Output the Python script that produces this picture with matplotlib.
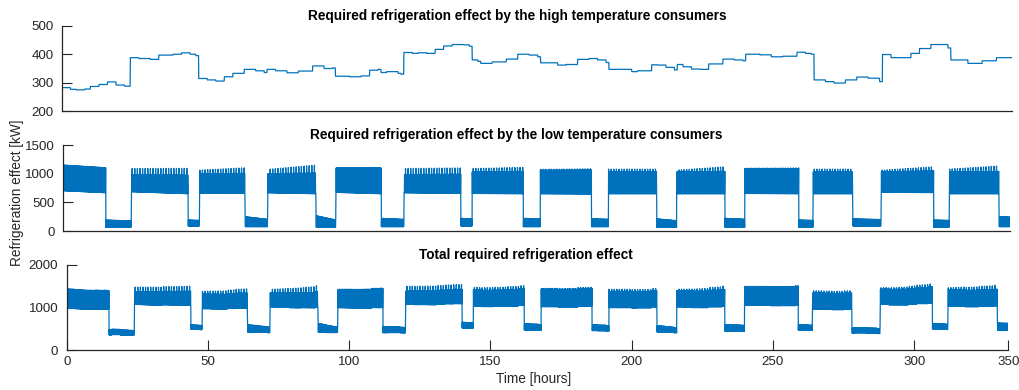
import numpy as np
import matplotlib
matplotlib.use("Agg")
import matplotlib.pyplot as plt

plt.rcParams['font.family'] = ['Liberation Sans', 'DejaVu Sans']

# ---------------------------------------------------------------------------
# High temperature consumers: hourly load profile, (hour, kW) change points
ht_hour = [0, 3, 5, 8, 10, 13, 16, 19, 22,
           24, 27, 31, 34, 39, 42, 45, 47,
           48, 51, 54, 57, 60, 64, 68, 71,
           72, 75, 79, 83, 88, 92, 95,
           96, 101, 105, 108, 111, 112, 114, 118, 119,
           120, 123, 125, 128, 131, 134, 137, 141, 143,
           144, 146, 147, 151, 156, 160, 164, 167,
           168, 174, 177, 181, 185, 188, 191,
           192, 200, 202, 207, 209, 212, 215,
           216, 218, 221, 224, 227, 232, 236, 239,
           240, 245, 249, 253, 258, 261, 263,
           264, 268, 271, 275, 279, 283, 287,
           288, 291, 295, 298, 301, 305, 308, 311,
           312, 318, 323, 328]
ht_kw = [283, 277, 275, 278, 287, 294, 303, 292, 288,
         388, 385, 382, 397, 400, 405, 400, 395,
         315, 310, 306, 321, 333, 347, 342, 336,
         347, 342, 335, 341, 359, 350, 352,
         323, 321, 324, 344, 347, 336, 339, 333, 330,
         406, 403, 405, 403, 417, 429, 434, 433, 428,
         380, 375, 368, 373, 383, 400, 397, 391,
         370, 362, 364, 382, 385, 380, 371,
         347, 339, 342, 363, 362, 354, 345,
         364, 356, 348, 347, 366, 383, 380, 377,
         400, 398, 391, 393, 407, 403, 400,
         310, 304, 299, 310, 320, 316, 304,
         399, 388, 388, 403, 420, 434, 434, 422,
         380, 368, 377, 388]

# Low temperature consumers: opening hours of each day and band limits [kW]
day_start = [0, 24, 48, 72, 96, 120, 144, 168, 192, 216, 240, 264, 288, 312]
day_end = [15, 44, 64, 89, 112, 140, 162, 186, 209, 233, 259, 278, 306.5, 329.5]
day_low = [(702, 667), (685, 650), (657, 655), (667, 650), (674, 650),
           (667, 655), (655, 650), (650, 645), (650, 650), (650, 650),
           (655, 650), (650, 650), (674, 670), (650, 650)]
day_high = [(1150, 1103), (985, 975), (1000, 1005), (1000, 1010), (1100, 1100),
            (985, 990), (1030, 1040), (1060, 1065), (1030, 1033), (1030, 1040),
            (1090, 1090), (1030, 1030), (1030, 1050), (1030, 1040)]
day_peak = [(1150, 1103), (1090, 1092), (1062, 1103), (1075, 1150), (1100, 1105),
            (1090, 1100), (1090, 1110), (1075, 1085), (1080, 1080), (1062, 1120),
            (1095, 1100), (1080, 1080), (1060, 1120), (1080, 1135)]
night_low = [(64, 64), (87, 87), (75, 75), (64, 64), (75, 75), (87, 87), (75, 75),
             (75, 75), (64, 64), (64, 64), (64, 64), (87, 87), (64, 64), (75, 75)]
night_high = [(192, 175), (192, 185), (250, 203), (267, 192), (221, 203),
              (221, 210), (221, 210), (212, 205), (212, 180), (221, 205),
              (192, 185), (212, 200), (192, 185), (250, 240)]

# compressor cycling within one period: 0 = low edge, 1 = high edge, 2 = peak
cycle = [0, 1, 0, 1, 0, 2, 0, 1, 0, 1, 0]

t_end = 20000 / 60          # simulated period [h]
dt = 5 / 60                 # sample time [h]

x_ticks = [0, 50, 100, 150, 200, 250, 300, t_end]
x_labels = ['0', '50', '100', '150', '200', '250', '300', '350']

titles = ['Required refrigeration effect by the high temperature consumers',
          'Required refrigeration effect by the low temperature consumers',
          'Total required refrigeration effect']
y_ticks = [[200, 300, 400, 500], [0, 500, 1000, 1500], [0, 1000, 2000]]
y_label = 'Refrigeration effect [kW]'
x_label = 'Time [hours]'

# ---------------------------------------------------------------------------
t = np.arange(0, t_end + 1e-9, dt)
code = np.array(cycle)[np.arange(t.size) % len(cycle)]

idx = np.searchsorted(ht_hour, t, side='right') - 1
ht = np.array(ht_kw, dtype=float)[idx]

segments = []
for i in range(len(day_start)):
    segments.append((day_start[i], day_end[i], day_low[i], day_high[i], day_peak[i]))
    n_end = day_start[i + 1] if i + 1 < len(day_start) else t_end + 1
    segments.append((day_end[i], n_end, night_low[i], night_high[i], night_high[i]))

lt = np.zeros_like(t)
for s, e, lo, hi, pk in segments:
    m = (t >= s) & (t < e)
    f = (t[m] - s) / (e - s)
    lo_v = lo[0] + (lo[1] - lo[0]) * f
    hi_v = hi[0] + (hi[1] - hi[0]) * f
    pk_v = pk[0] + (pk[1] - pk[0]) * f
    c = code[m]
    lt[m] = np.where(c == 0, lo_v, np.where(c == 1, hi_v, pk_v))

total = ht + lt
series = [ht, lt, total]

# ---------------------------------------------------------------------------
W, H = 1019, 390
fig = plt.figure(figsize=(W / 100, H / 100), dpi=100)
boxes = [(62, 1011.7, 25.7, 111.3),
         (63.3, 1010, 145, 231),
         (66.7, 1008.3, 264.7, 350.3)]
title_pos = [(517.5, 16), (516, 135), (526, 255)]
axis_col = '#262626'
line_col = '#0072BD'

for k, (l, r, tp, bt) in enumerate(boxes):
    ax = fig.add_axes([l / W, 1 - bt / H, (r - l) / W, (bt - tp) / H])
    ax.plot(t, series[k], color=line_col, lw=0.9)
    ax.set_xlim(0, t_end)
    ax.set_ylim(y_ticks[k][0], y_ticks[k][-1])
    ax.set_yticks(y_ticks[k])
    for side in ('top', 'right'):
        ax.spines[side].set_visible(False)
    for side in ('left', 'bottom'):
        ax.spines[side].set_color(axis_col)
        ax.spines[side].set_linewidth(0.9)
    ax.tick_params(axis='y', direction='in', length=7, width=0.8,
                   colors=axis_col, labelsize=9.6, pad=6)
    if k < 2:
        ax.set_xticks([])
    else:
        ax.set_xticks(x_ticks)
        ax.set_xticklabels(x_labels)
        ax.tick_params(axis='x', direction='in', length=7, width=0.8,
                       colors=axis_col, labelsize=9.6, pad=4)
    fig.text(title_pos[k][0] / W, 1 - title_pos[k][1] / H, titles[k],
             ha='center', va='center', fontsize=9.8, fontweight='bold',
             color='black')

fig.text(17 / W, 1 - 193 / H, y_label, rotation=90, ha='center', va='center',
         fontsize=9.8, color=axis_col)
fig.text(534 / W, 1 - 379 / H, x_label, ha='center', va='center',
         fontsize=9.8, color=axis_col)

fig.savefig('out.png', dpi=100)
